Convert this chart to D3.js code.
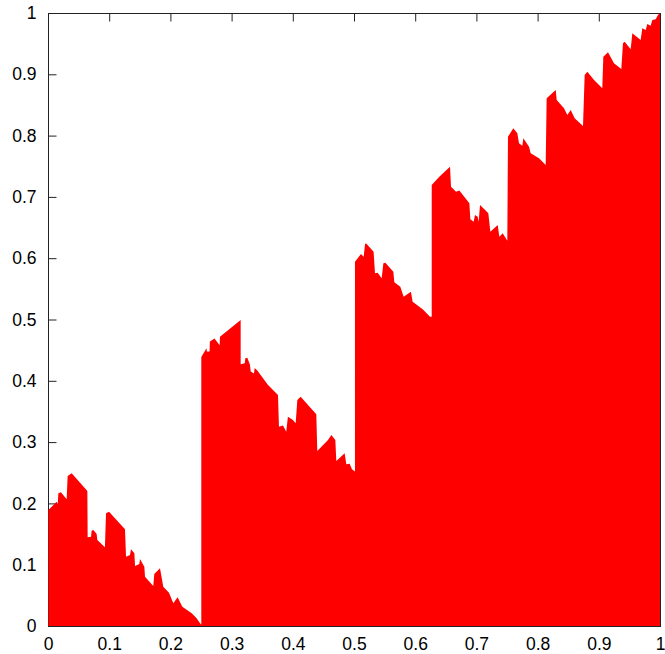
<!DOCTYPE html>
<html>
<head>
<meta charset="utf-8">
<script src="https://cdn.jsdelivr.net/npm/d3@7"></script>
<style>
  body { margin: 0; background: #fff; }
  svg text { font-family: "Liberation Sans", Arial, sans-serif; font-size: 17.5px; fill: #000; }
</style>
</head>
<body>
<div id="app"></div>
<script>
// profile of the filled curve (repeated x = vertical jump)
let profileX = [
  0.0006, 0.0142, 0.016, 0.0169, 0.0212, 0.0305, 0.0321, 0.0387, 0.0643, 0.0648,
  0.0703, 0.0713, 0.0741, 0.0795, 0.0806, 0.093, 0.0948, 0.0997, 0.1258, 0.1275,
  0.134, 0.1356, 0.1411, 0.1422, 0.1492, 0.1503, 0.1574, 0.1585, 0.172, 0.1737,
  0.183, 0.1884, 0.1977, 0.2048, 0.2118, 0.2195, 0.2348, 0.2429, 0.2484, 0.2505,
  0.2505, 0.259, 0.2595, 0.264, 0.2645, 0.272, 0.2805, 0.281, 0.3148, 0.3148,
  0.3215, 0.3224, 0.3257, 0.33, 0.3312, 0.3366, 0.3377, 0.342, 0.3595, 0.3758,
  0.3774, 0.384, 0.3893, 0.392, 0.4003, 0.4047, 0.4074, 0.4128, 0.4384, 0.44,
  0.4575, 0.463, 0.4695, 0.4711, 0.4847, 0.4875, 0.4929, 0.4967, 0.5016, 0.5016,
  0.5114, 0.5158, 0.518, 0.5196, 0.532, 0.5343, 0.5387, 0.5452, 0.548, 0.5512,
  0.5643, 0.5659, 0.5757, 0.5811, 0.593, 0.5958, 0.6122, 0.6242, 0.627, 0.627,
  0.6394, 0.6569, 0.6585, 0.6667, 0.6721, 0.6885, 0.6901, 0.6955, 0.6977, 0.7021,
  0.7037, 0.7059, 0.7195, 0.7228, 0.7348, 0.7375, 0.743, 0.7505, 0.7516, 0.7603,
  0.7669, 0.7696, 0.775, 0.7767, 0.786, 0.7887, 0.8023, 0.8132, 0.8148, 0.8296,
  0.8312, 0.8431, 0.8486, 0.8541, 0.8606, 0.8742, 0.8769, 0.8813, 0.8922, 0.9057,
  0.9074, 0.915, 0.9248, 0.9368, 0.9395, 0.9423, 0.9521, 0.9548, 0.9684, 0.9711,
  0.9766, 0.9793, 0.9847, 0.9875, 0.993, 0.9967, 1.0
]
let profileY = [
  0.1892, 0.2028, 0.199, 0.2164, 0.218, 0.2066, 0.2447, 0.2491, 0.2202, 0.1446,
  0.1457, 0.1555, 0.1566, 0.1501, 0.1403, 0.1283, 0.1838, 0.1865, 0.1577, 0.1131,
  0.1158, 0.1251, 0.1185, 0.0979, 0.1011, 0.1093, 0.0968, 0.0805, 0.0653, 0.0848,
  0.0941, 0.0642, 0.0544, 0.037, 0.0468, 0.0315, 0.0207, 0.0125, 0.0044, 0.002,
  0.439, 0.453, 0.448, 0.448, 0.464, 0.469, 0.458, 0.472, 0.499, 0.427,
  0.4286, 0.4367, 0.4378, 0.426, 0.415, 0.412, 0.421, 0.417, 0.393, 0.377,
  0.325, 0.327, 0.317, 0.3415, 0.336, 0.3306, 0.3687, 0.3741, 0.3453, 0.2855,
  0.3034, 0.3116, 0.3034, 0.269, 0.2817, 0.2637, 0.2648, 0.2556, 0.252, 0.5943,
  0.6069, 0.6025, 0.6226, 0.6243, 0.6107, 0.5753, 0.5764, 0.5672, 0.5916, 0.5927,
  0.578, 0.5606, 0.5535, 0.5372, 0.5454, 0.529, 0.5166, 0.5046, 0.5046, 0.7194,
  0.733, 0.7493, 0.7167, 0.7085, 0.7103, 0.6895, 0.6634, 0.6596, 0.6705, 0.6678,
  0.6596, 0.6868, 0.6732, 0.6433, 0.6542, 0.6351, 0.6406, 0.6286, 0.7982, 0.8119,
  0.8038, 0.7874, 0.7836, 0.7956, 0.782, 0.7711, 0.763, 0.7521, 0.8608, 0.8744,
  0.8581, 0.8445, 0.8336, 0.8418, 0.8282, 0.8157, 0.8989, 0.9043, 0.8907, 0.8771,
  0.9288, 0.9358, 0.918, 0.9087, 0.9506, 0.9532, 0.9407, 0.9668, 0.9559, 0.975,
  0.9723, 0.982, 0.979, 0.9886, 0.99, 0.9967, 1.0
]
let xTicks = [0, 0.1, 0.2, 0.3, 0.4, 0.5, 0.6, 0.7, 0.8, 0.9, 1]
let yTicks = [0, 0.1, 0.2, 0.3, 0.4, 0.5, 0.6, 0.7, 0.8, 0.9, 1]

let width = 665
let height = 654
let margin = {top: 13, right: 5, bottom: 28, left: 48}

let x = d3.scaleLinear().domain([0, 1]).range([margin.left, width - margin.right])
let y = d3.scaleLinear().domain([0, 1]).range([height - margin.bottom, margin.top])

let svg = d3.select("#app").append("svg")
    .attr("width", width)
    .attr("height", height)

let fmt = d => d === 0 || d === 1 ? String(d) : d3.format(".1f")(d)

// border + inward ticks (drawn first, the fill covers them like in gnuplot)
svg.append("rect")
    .attr("x", x(0) + 0.5).attr("y", y(1) + 0.5)
    .attr("width", x(1) - x(0)).attr("height", y(0) - y(1))
    .attr("fill", "none").attr("stroke", "#222").attr("stroke-width", 1)

let tick = 8
let gy = svg.append("g").attr("transform", "translate(" + (x(0) + 0.5) + ",0)")
    .call(d3.axisLeft(y).tickValues(yTicks).tickSize(-tick).tickPadding(12).tickFormat(fmt))
let gyr = svg.append("g").attr("transform", "translate(" + (x(1) + 0.5) + ",0)")
    .call(d3.axisRight(y).tickValues(yTicks).tickSize(-tick).tickFormat(""))
let gxt = svg.append("g").attr("transform", "translate(0," + (y(1) + 0.5) + ")")
    .call(d3.axisTop(x).tickValues(xTicks).tickSize(-tick).tickFormat(""))
let gx = svg.append("g").attr("transform", "translate(0," + (y(0) + 0.5) + ")")
    .call(d3.axisBottom(x).tickValues(xTicks).tickSize(-tick).tickPadding(11).tickFormat(fmt))

for (let g of [gy, gyr, gxt, gx]) {
  g.select(".domain").remove()
  g.selectAll("line").attr("stroke", "#222")
  g.selectAll("text").attr("font-family", null).attr("font-size", null)
}

// filled curve
let pts = profileX.map((d, i) => [d, profileY[i]])
let area = d3.area()
    .x(d => x(d[0]))
    .y0(y(0))
    .y1(d => y(d[1]))

svg.append("path")
    .datum(pts)
    .attr("d", area)
    .attr("fill", "#ff0000")
</script>
</body>
</html>
